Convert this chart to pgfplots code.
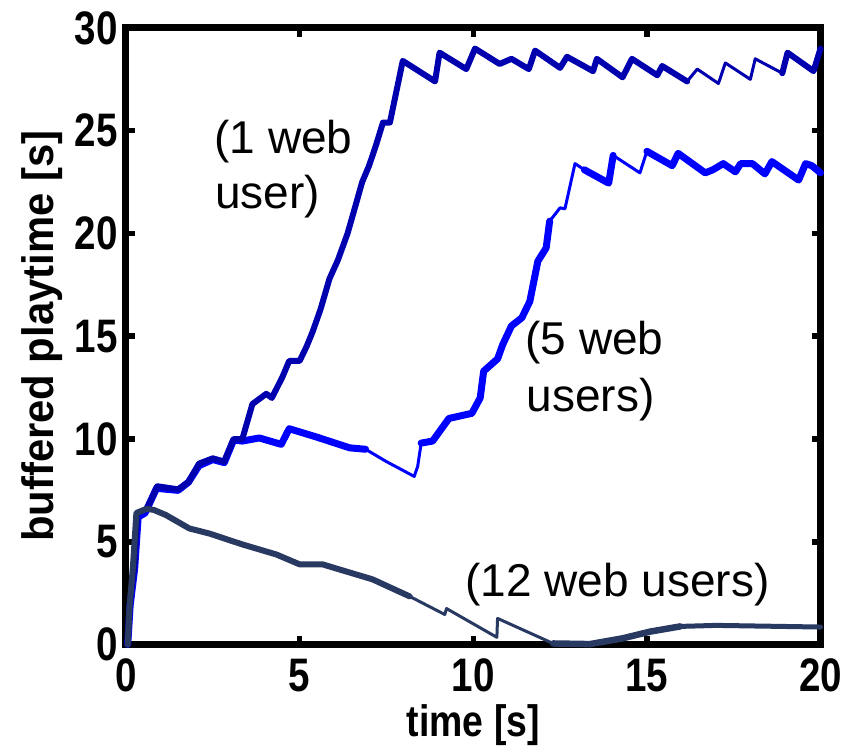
\documentclass[border=0pt]{standalone}
\usepackage{pgfplots}
\pgfplotsset{compat=1.18}
\usepackage{fontspec}
\setmainfont{Liberation Sans}
\definecolor{oneuser}{RGB}{0,0,175}
\definecolor{fiveuser}{RGB}{0,0,255}
\definecolor{twelveuser}{RGB}{40,58,98}
% condensed bold digits for the tick labels
\newcommand{\tk}[1]{\scalebox{0.82}[1]{#1}}

\begin{document}
\begin{tikzpicture}
\begin{axis}[
  at={(126pt,100.5pt)}, anchor=south west,
  scale only axis, width=694.5pt, height=616.5pt,
  xmin=0, xmax=20, ymin=0, ymax=30,
  clip=false,
  xtick={0,5,10,15,20}, ytick={0,5,10,15,20,25,30},
  xticklabels={\tk{0},\tk{5},\tk{10},\tk{15},\tk{20}},
  yticklabels={\tk{0},\tk{5},\tk{10},\tk{15},\tk{20},\tk{25},\tk{30}},
  tick align=inside,
  major tick length=9pt,
  tick style={black, line width=5.5pt},
  axis line style={line width=7pt},
  ticklabel style={font=\fontsize{47}{47}\selectfont\bfseries, inner sep=0pt},
  xticklabel style={anchor=north, yshift=-14pt},
  yticklabel style={anchor=east, xshift=-8pt},
  xlabel={\scalebox{0.85}[1]{time [s]}},
  ylabel={\scalebox{0.95}[1]{buffered playtime [s]}},
  label style={font=\fontsize{44}{44}\selectfont\bfseries, inner sep=0pt},
  xlabel style={at={(axis description cs:0.5,-0.1485)}, anchor=base},
  ylabel style={at={(axis description cs:-0.1037,0.5)}, anchor=base, rotate=0},
  every axis plot/.append style={line join=round, line cap=round},
]

% 5 web users
\addplot[fiveuser, line width=7pt] coordinates {
  (0.05,0) (0.12,1.9) (0.25,3.7) (0.35,6.2) (0.55,6.4) (0.88,7.6) (1.5,7.5)
  (1.8,7.9) (2.1,8.7) (2.5,9.0) (2.83,8.85) (3.1,9.95) (3.35,9.9) (3.84,10.05)
  (4.47,9.74) (4.7,10.5) (5.48,10.1) (6.44,9.57) (6.9,9.5)};
\addplot[fiveuser, line width=3pt] coordinates {
  (6.9,9.5) (7.5,8.9) (8.3,8.18) (8.4,8.67) (8.5,9.8)};
\addplot[fiveuser, line width=7pt] coordinates {
  (8.5,9.8) (8.83,9.9) (9.3,11.0) (9.96,11.25) (10.2,12.0) (10.3,13.3)
  (10.7,13.9) (10.85,14.6) (11.1,15.5) (11.4,15.9) (11.63,16.7) (11.86,18.65)
  (12.1,19.3) (12.2,20.6)};
\addplot[fiveuser, line width=3pt] coordinates {
  (12.2,20.6) (12.5,21.25) (12.64,21.2) (12.93,23.4) (13.2,23.1)};
\addplot[fiveuser, line width=7pt] coordinates {
  (13.2,23.1) (13.9,22.45) (14.03,23.8)};
\addplot[fiveuser, line width=3pt] coordinates {
  (14.03,23.8) (14.8,22.95) (15.0,24.0)};
\addplot[fiveuser, line width=7pt] coordinates {
  (15.0,24.0) (15.73,23.3) (15.9,23.9) (16.68,22.95) (16.9,23.1) (17.2,23.4)
  (17.55,23.0) (17.7,23.4) (18.04,23.4) (18.4,22.9) (18.6,23.5) (19.37,22.6)
  (19.57,23.4) (19.75,23.3) (20,22.95)};

% 1 web user
\addplot[oneuser, line width=6pt] coordinates {
  (0.05,0) (0.1,1.9) (0.25,3.9) (0.32,6.4) (0.6,6.6) (0.9,7.7) (1.5,7.55)
  (1.8,7.9) (2.1,8.8) (2.5,9.06) (2.83,8.9) (3.1,10.0) (3.35,10.0) (3.64,11.7)
  (4.04,12.2) (4.2,12.0) (4.5,13.0) (4.7,13.8) (5.0,13.8) (5.2,14.5)
  (5.37,15.2) (5.6,16.3) (5.86,17.8) (6.1,18.7) (6.38,20.0) (6.6,21.3)
  (6.8,22.5) (7.0,23.3) (7.2,24.3) (7.4,25.4) (7.6,25.4)
  (7.97,28.4) (8.9,27.4) (9.03,28.8) (9.8,28.0) (10.05,29.0) (10.76,28.25)
  (11.1,28.5) (11.6,28.0) (11.78,28.9) (12.5,28.06) (12.7,28.6) (13.45,27.9)
  (13.56,28.5) (14.3,27.6) (14.57,28.5) (15.3,27.7) (15.44,28.15) (16.16,27.4)};
\addplot[oneuser, line width=3pt] coordinates {
  (16.16,27.4) (16.45,28.0) (17.06,27.3) (17.26,28.3) (17.98,27.5) (18.12,28.5)
  (18.9,27.8)};
\addplot[oneuser, line width=6pt] coordinates {
  (18.9,27.8) (19.05,28.8) (19.8,27.9) (20,29.0)};

% 12 web users
\addplot[twelveuser, line width=6pt] coordinates {
  (0.05,0) (0.1,1.8) (0.2,3.8) (0.3,6.4) (0.6,6.6) (0.8,6.55) (1.15,6.3)
  (1.82,5.65) (2.4,5.4) (3.35,4.87) (4.33,4.38) (5.0,3.9) (5.66,3.9)
  (6.15,3.65) (7.1,3.17) (8.17,2.34)};
\addplot[twelveuser, line width=3pt] coordinates {
  (8.17,2.34) (9.18,1.46) (9.23,1.75) (10.68,0.35) (10.7,1.27) (12.3,0.05)};
\addplot[twelveuser, line width=6.5pt] coordinates {
  (12.3,0.05) (13.36,0.02) (14.3,0.3) (15.1,0.63) (15.96,0.88)};
\addplot[twelveuser, line width=5pt] coordinates {
  (15.96,0.88) (17.0,0.93) (20,0.85)};

% curve annotations
\begin{scope}[every node/.style={font=\fontsize{46}{46}\selectfont, inner sep=0pt, anchor=base west}]
\node at (axis cs:2.54,23.9) {(1 web};
\node at (axis cs:2.56,21.23) {user)};
\node at (axis cs:11.5,14.09) {(5 web};
\node at (axis cs:11.53,11.33) {users)};
\node at (axis cs:9.77,2.33) {(12 web users)};
\end{scope}
\end{axis}
\pgfresetboundingbox
\path (0,0) rectangle (854pt,745pt);
\end{tikzpicture}
\end{document}
